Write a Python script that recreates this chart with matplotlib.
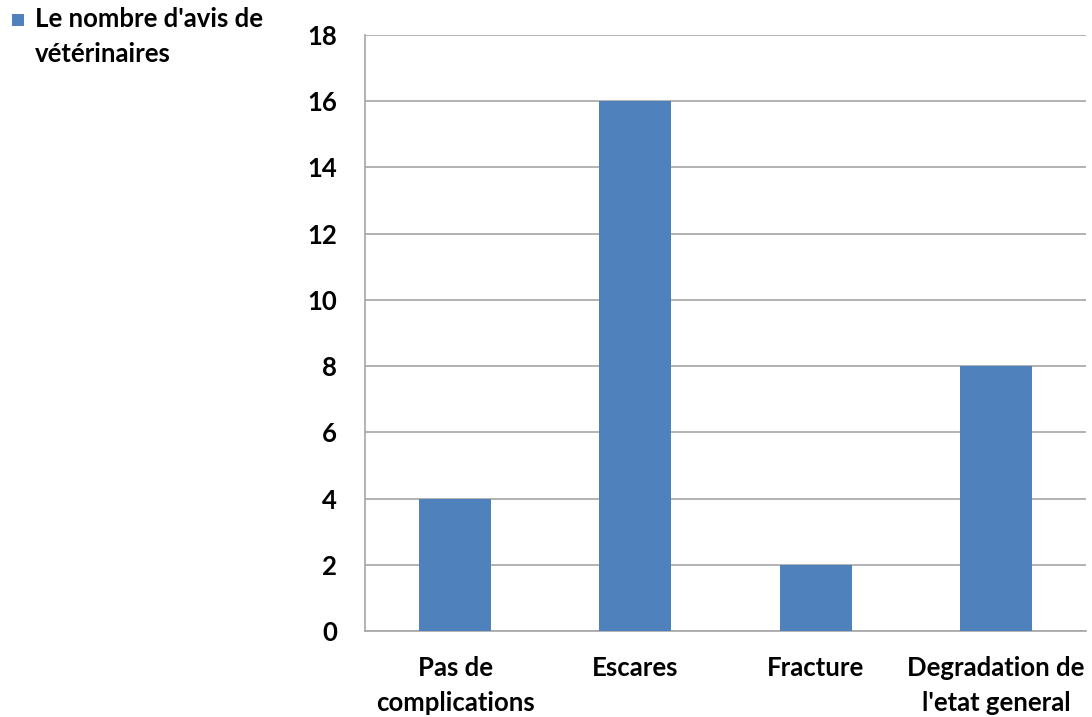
import matplotlib
matplotlib.use("Agg")
import matplotlib.pyplot as plt
from matplotlib.patches import Rectangle

categories = ["Pas de\ncomplications", "Escares", "Fracture", "Degradation de\nl'etat general"]
values = [4, 16, 2, 8]
series_label_lines = ["Le nombre d'avis de", "vétérinaires"]
yticks = [0, 2, 4, 6, 8, 10, 12, 14, 16, 18]

plt.rcParams['font.family'] = ['Lato', 'DejaVu Sans']
plt.rcParams['font.weight'] = 'bold'

W, H = 1092, 717
fig = plt.figure(figsize=(W/100, H/100), dpi=100)
ax = fig.add_axes([365/W, 1-631/H, (1086-365)/W, (631-35)/H])

bar_color = "#4F81BD"
x = list(range(len(categories)))
bars = ax.bar(x, values, width=0.4, color=bar_color,
              label="\n".join(series_label_lines), zorder=3)

ax.set_xlim(-0.5, len(categories) - 0.5)
ax.set_ylim(0, 18)
ax.set_yticks(yticks)
ax.set_yticklabels([str(t) for t in yticks])
ax.set_xticks(x)
ax.set_xticklabels(categories, linespacing=1.55)

ax.yaxis.grid(True, color="#A6A6A6", linewidth=1.2, zorder=0)
ax.set_axisbelow(True)
for s in ["top", "right"]:
    ax.spines[s].set_visible(False)
for s in ["left", "bottom"]:
    ax.spines[s].set_color("#A6A6A6")
    ax.spines[s].set_linewidth(1.2)

ax.tick_params(axis='y', length=0, pad=20, labelsize=18.5)
ax.tick_params(axis='x', length=0, pad=18, labelsize=18.5)
for lbl in ax.get_xticklabels() + ax.get_yticklabels():
    lbl.set_fontweight('bold')
    lbl.set_color('black')

# legend drawn manually: square aligned with the first line of the label
fig.patches.append(Rectangle((12/W, 1-26/H), 12/W, 12/H, transform=fig.transFigure,
                             facecolor=bar_color, edgecolor='none'))
baselines = [27, 62]
for line, yb in zip(series_label_lines, baselines):
    fig.text(35/W, 1-yb/H, line, ha='left', va='baseline', fontsize=18.5,
             fontweight='bold', color='black')

fig.savefig("out.png", dpi=100)
